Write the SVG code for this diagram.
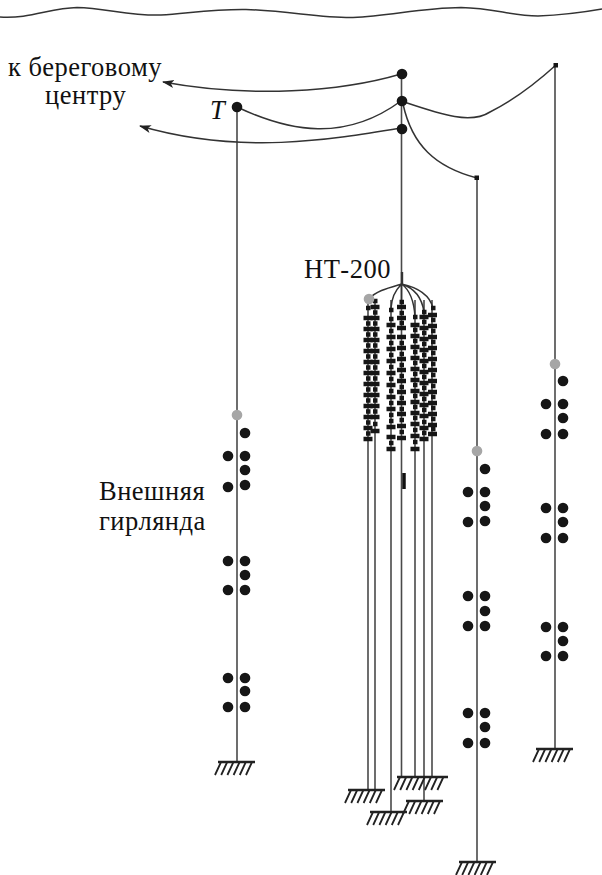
<svg xmlns="http://www.w3.org/2000/svg" width="602" height="875" viewBox="0 0 602 875">
<style>
.w{fill:none;stroke:#4a4a4a;stroke-width:1.6}
.c{fill:none;stroke:#333;stroke-width:1.5}
.b{fill:none;stroke:#161616;stroke-width:4.500}
.d{fill:#161616}
.g{fill:#a6a6a6}
.h{fill:none;stroke:#222;stroke-width:1.800}
.p{fill:none;stroke:#222;stroke-width:2.400}
.t{font-family:"Liberation Serif","DejaVu Serif",serif;font-size:26.5px;letter-spacing:.5px;fill:#111}
</style>
<defs>
<marker id="a" markerWidth="14" markerHeight="10" refX="11" refY="4.500" orient="auto" markerUnits="userSpaceOnUse"><path d="M12 4.500L0 0.500L3 4.500L0 8.500Z" fill="#222"/></marker>
<g id="gr"><path class="p" d="M0 0h37"/><path class="h" d="M3 0L-3 13M9.200 0L3.200 13M15.400 0L9.400 13M21.600 0L15.600 13M27.800 0L21.800 13M34 0L28 13"/></g>
<circle id="dot" r="5.300" class="d"/>
</defs>
<g id="connectors">
<path class="c" d="M0 17C30 19 50 8 77 7.500C105 8 130 16 161 15C190 13 215 9 246 9.500C290 11 320 18 353 17.500C390 16 420 8 461 7.500C495 8 510 16 538 16C565 15 585 12 602 9"/>
<path class="w" d="M237 108V762M401.500 73V276M477 178V862M555 65V749"/>
<path class="w" d="M368 300V790M375 300V790M391 300V812M401.500 276V777M415 300V777M424 300V801M432 300V777"/>
<path d="M402 272V284" stroke="#333" stroke-width="2.400" fill="none"/>
<path class="c" marker-end="url(#a)" d="M401 74C340 92 250 98 163 82"/>
<path class="c" marker-end="url(#a)" d="M401 128C330 140 240 155 140 126"/>
<path class="c" d="M237 107C290 132 345 142 401 101"/>
<path class="c" d="M401 101C440 114 470 125 490 112C510 102 535 84 556 65"/>
<path class="c" d="M403 104C412 145 435 167 477 178"/>
<path class="c" d="M401.500 284C388 288 376 291 369 299M401.500 284C394 292 392 298 391 308M401.500 284V302M401.500 284C410 290 414 300 415 317M401.500 284C414 288 422 298 424 312M401.500 284C420 288 430 296 433 308"/>
<path d="M404 473V489" stroke="#111" stroke-width="3.500" fill="none"/>
</g>
<g id="string-a"><path class="b" d="M363.500 318h9M363.500 329h9M363.500 340h9M363.500 351h9M363.500 362h9M363.500 373h9M363.500 384h9M363.500 395h9M363.500 406h9M363.500 417h9M363.500 428h9M363.500 439h9M366 308h4.500M366 323.500h4.500M366 334.500h4.500M366 345.500h4.500M366 356.500h4.500M366 367.500h4.500M366 378.500h4.500M366 389.500h4.500M366 400.500h4.500M366 411.500h4.500M366 422.500h4.500M366 433.500h4.500"/></g>
<g id="string-b"><path class="b" d="M370.500 307h9M370.500 318h9M370.500 329h9M370.500 340h9M370.500 351h9M370.500 362h9M370.500 373h9M370.500 384h9M370.500 395h9M370.500 406h9M370.500 417h9M370.500 431h9M373 301h4.500M373 312.500h4.500M373 323.500h4.500M373 334.500h4.500M373 345.500h4.500M373 356.500h4.500M373 367.500h4.500M373 378.500h4.500M373 389.500h4.500M373 400.500h4.500M373 411.500h4.500M373 424h4.500"/></g>
<g id="string-c"><path class="b" d="M386.500 325h9M386.500 337h9M386.500 349h9M386.500 361h9M386.500 373h9M386.500 385h9M386.500 397h9M386.500 409h9M386.500 427h9M386.500 437h9M386.500 449h9M389 310h4.500M389 319h4.500M389 331h4.500M389 343h4.500M389 355h4.500M389 367h4.500M389 379h4.500M389 391h4.500M389 403h4.500M389 415h4.500M389 421h4.500M389 443h4.500"/></g>
<g id="string-d"><path class="b" d="M397 307h9M397 318h9M397 328h9M397 337h9M397 348h9M397 359h9M397 370h9M397 381h9M397 392h9M397 403h9M397 414h9M397 426h9M397 438h9M399.500 302h4.500M399.500 313h4.500M399.500 323h4.500M399.500 343h4.500M399.500 354h4.500M399.500 365h4.500M399.500 376h4.500M399.500 387h4.500M399.500 398h4.500M399.500 409h4.500M399.500 420h4.500M399.500 432h4.500"/></g>
<g id="string-e"><path class="b" d="M410.500 325h9M410.500 336h9M410.500 347h9M410.500 358h9M410.500 369h9M410.500 380h9M410.500 391h9M410.500 402h9M410.500 413h9M410.500 424h9M410.500 436h9M410.500 449h9M413 317h4.500M413 330h4.500M413 341h4.500M413 352h4.500M413 363h4.500M413 374h4.500M413 385h4.500M413 396h4.500M413 407h4.500M413 418h4.500M413 430h4.500M413 442h4.500"/></g>
<g id="string-f"><path class="b" d="M419.500 317h9M419.500 328h9M419.500 339h9M419.500 350h9M419.500 361h9M419.500 372h9M419.500 383h9M419.500 394h9M419.500 405h9M419.500 416h9M419.500 428h9M419.500 439h9M422 312h4.500M422 322h4.500M422 333h4.500M422 344h4.500M422 355h4.500M422 366h4.500M422 377h4.500M422 388h4.500M422 399h4.500M422 410h4.500M422 422h4.500M422 433h4.500"/></g>
<g id="string-g"><path class="b" d="M428 315h9M428 326h9M428 337h9M428 348h9M428 359h9M428 370h9M428 381h9M428 392h9M428 403h9M428 414h9M428 425h9M428 434h9M431 308h4.500M431 320h4.500M431 331h4.500M431 342h4.500M431 353h4.500M431 364h4.500M431 375h4.500M431 386h4.500M431 397h4.500M431 408h4.500M431 419h4.500M431 429h4.500"/></g>
<g id="node-top">
<use href="#dot" x="402" y="74"/><use href="#dot" x="402" y="101"/><use href="#dot" x="402" y="129"/>
<circle class="d" cx="237" cy="107" r="5.300"/>
<rect class="d" x="474.500" y="175.500" width="4.500" height="4.500"/>
<rect class="d" x="553.500" y="63" width="4.500" height="4.500"/>
</g>
<g id="garland-1">
<circle class="g" cx="237" cy="415" r="5.300"/>
<use href="#dot" x="245" y="433"/><use href="#dot" x="228" y="456"/><use href="#dot" x="245" y="456"/><use href="#dot" x="245" y="470"/><use href="#dot" x="228" y="487"/><use href="#dot" x="245" y="485"/><use href="#dot" x="228" y="561"/><use href="#dot" x="245" y="561"/><use href="#dot" x="245" y="575"/><use href="#dot" x="228" y="590"/><use href="#dot" x="245" y="590"/><use href="#dot" x="228" y="678"/><use href="#dot" x="245" y="678"/><use href="#dot" x="245" y="691"/><use href="#dot" x="228" y="707"/><use href="#dot" x="245" y="707"/>
</g>
<g id="garland-2">
<circle class="g" cx="477" cy="451" r="5.300"/>
<use href="#dot" x="485" y="469"/><use href="#dot" x="468" y="492"/><use href="#dot" x="485" y="492"/><use href="#dot" x="485" y="506"/><use href="#dot" x="468" y="522"/><use href="#dot" x="485" y="521"/><use href="#dot" x="468" y="596"/><use href="#dot" x="485" y="596"/><use href="#dot" x="485" y="611"/><use href="#dot" x="468" y="626"/><use href="#dot" x="485" y="626"/><use href="#dot" x="468" y="713"/><use href="#dot" x="485" y="713"/><use href="#dot" x="485" y="727"/><use href="#dot" x="468" y="743"/><use href="#dot" x="485" y="743"/>
</g>
<g id="garland-3">
<circle class="g" cx="555" cy="364" r="5.300"/>
<use href="#dot" x="563" y="381"/><use href="#dot" x="546" y="404"/><use href="#dot" x="563" y="404"/><use href="#dot" x="563" y="418"/><use href="#dot" x="546" y="434"/><use href="#dot" x="563" y="434"/><use href="#dot" x="546" y="508"/><use href="#dot" x="563" y="508"/><use href="#dot" x="563" y="522"/><use href="#dot" x="546" y="538"/><use href="#dot" x="563" y="538"/><use href="#dot" x="546" y="627"/><use href="#dot" x="563" y="627"/><use href="#dot" x="563" y="641"/><use href="#dot" x="546" y="656"/><use href="#dot" x="563" y="656"/>
</g>
<circle id="node-ht-gray" class="g" cx="369" cy="299" r="5.300"/>
<g id="grounds">
<use href="#gr" x="218" y="762"/>
<use href="#gr" x="536" y="749"/>
<use href="#gr" x="348" y="790"/>
<g id="ground-wide"><path class="p" d="M397 777h51"/><path class="h" d="M400 777L394 790M406.200 777L400.200 790M412.400 777L406.400 790M418.600 777L412.600 790M424.800 777L418.800 790M431 777L425 790M437.200 777L431.200 790M443.400 777L437.400 790"/></g>
<use href="#gr" x="406" y="801"/>
<use href="#gr" x="370" y="812"/>
<use href="#gr" x="459" y="862"/>
</g>
<g id="labels">
<text class="t" x="8" y="76">к береговому</text>
<text class="t" x="45" y="104">центру</text>
<text class="t" x="210" y="119" style="font-style:italic">T</text>
<text class="t" x="304" y="278">НТ-200</text>
<text class="t" x="99" y="500">Внешняя</text>
<text class="t" x="99" y="530">гирлянда</text>
</g>
</svg>
